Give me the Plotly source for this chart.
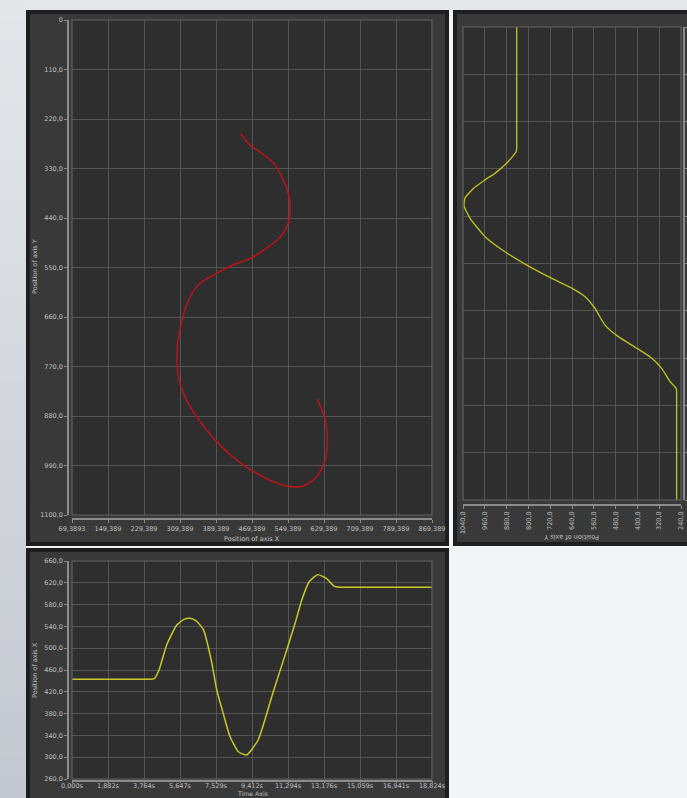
import plotly.graph_objects as go

W, H = 687, 798

# ---------------- data ----------------
# top-left: trajectory (Position of axis X vs Position of axis Y)
path_x = [444.3, 465, 487, 517, 539, 552, 554, 550, 532, 502, 465, 428, 391, 354, 332,
          315, 303, 306, 320, 346, 391, 450, 517, 554, 583, 613, 632, 637, 632, 615]
path_y = [253, 278, 293, 318, 356, 393, 422, 452, 482, 507, 530, 544, 563, 585, 615,
          663, 733, 793, 837, 881, 937, 989, 1026, 1037, 1036, 1015, 978, 933, 889, 843]

# top-right: Position of axis Y over time (time runs upward)
y_time = [0, 4.0, 4.30, 4.45, 4.71, 5.24, 5.64, 6.04, 6.50, 6.96, 7.63, 8.09, 8.43, 8.82,
          9.35, 9.88, 10.48, 11.21, 11.70, 12.01, 12.40, 12.74, 13.00, 13.40, 13.86,
          14.00, 14.3, 18.824]
y_pos = [256, 256, 256, 258, 280, 311, 347, 402, 470, 519, 556, 592, 641, 714,
         806, 886, 959, 1014, 1036, 1033, 1002, 959, 923, 880, 845,
         843, 843, 843]

# bottom: Position of axis X over time
x_time = [0, 3.9, 4.30, 4.55, 4.95, 5.47, 5.85, 6.17, 6.50, 6.87, 7.30, 7.57, 7.91, 8.26,
          8.70, 9.13, 9.74, 10.48, 11.21, 11.70, 12.01, 12.40, 12.86, 13.30, 13.70, 14.00,
          14.5, 18.824]
x_pos = [443, 443, 444, 460, 506, 542, 553, 555, 550, 534, 475, 423, 380, 338,
         310, 304, 332, 415, 495, 550, 588, 622, 635, 628, 614, 612,
         612, 612]

# tick labels
tl_x_vals = [69.3893 + 80 * i for i in range(11)]
tl_x_text = ["69,3893", "149,389", "229,389", "309,389", "389,389", "469,389",
             "549,389", "629,389", "709,389", "789,389", "869,389"]
tl_y_vals = [110 * i for i in range(11)]
tl_y_text = ["0", "110,0", "220,0", "330,0", "440,0", "550,0", "660,0", "770,0",
             "880,0", "990,0", "1100,0"]
tr_x_vals = [1040, 960, 880, 800, 720, 640, 560, 480, 400, 320, 240]
tr_x_text = ["1040,0", "960,0", "880,0", "800,0", "720,0", "640,0", "560,0", "480,0",
             "400,0", "320,0", "240,0"]
b_x_vals = [1.8824 * i for i in range(11)]
b_x_text = ["0,000s", "1,882s", "3,764s", "5,647s", "7,529s", "9,412s", "11,294s",
            "13,176s", "15,059s", "16,941s", "18,824s"]
b_y_vals = [260, 300, 340, 380, 420, 460, 500, 540, 580, 620, 660]
b_y_text = ["260,0", "300,0", "340,0", "380,0", "420,0", "460,0", "500,0", "540,0",
            "580,0", "620,0", "660,0"]

# ---------------- helpers ----------------
def fx(x):
    return x / W


def fy(y):
    return 1 - y / H


FONT = "DejaVu Sans"
GRID = "#555555"
AXL = "#8c8c8c"
TXT = "#c0c0c0"

fig = go.Figure()

fig.add_trace(go.Scatter(x=path_x, y=path_y, mode="lines", xaxis="x", yaxis="y",
                         line=dict(color="#b3161b", width=1.6, shape="spline", smoothing=0.8),
                         hoverinfo="skip", showlegend=False))
fig.add_trace(go.Scatter(x=y_pos, y=y_time, mode="lines", xaxis="x2", yaxis="y2",
                         line=dict(color="#bdbd22", width=1.4, shape="spline", smoothing=0.5),
                         hoverinfo="skip", showlegend=False))
fig.add_trace(go.Scatter(x=x_time, y=x_pos, mode="lines", xaxis="x3", yaxis="y3",
                         line=dict(color="#c9c926", width=1.5, shape="spline", smoothing=0.5),
                         hoverinfo="skip", showlegend=False))


def ax(**kw):
    d = dict(showgrid=True, gridcolor=GRID, gridwidth=1, zeroline=False, automargin=False,
             showline=True, linecolor=AXL, linewidth=1.5, ticks="outside", ticklen=3,
             tickcolor=AXL, tickwidth=1, tickfont=dict(size=6.5, color=TXT, family=FONT),
             tickmode="array", fixedrange=True)
    d.update(kw)
    return d


layout = dict(
    template="none",
    width=W, height=H, margin=dict(l=0, r=0, t=0, b=0, pad=0), autosize=False,
    showlegend=False,
    paper_bgcolor="#f3f4f6", plot_bgcolor="rgba(0,0,0,0)",
    font=dict(family=FONT, color=TXT),
    xaxis=ax(domain=[fx(72), fx(432)], range=[69.3893, 869.389], tickvals=tl_x_vals,
             ticktext=tl_x_text, anchor="free", position=fy(519)),
    yaxis=ax(domain=[fy(515), fy(20)], range=[1100, 0], tickvals=tl_y_vals,
             ticktext=tl_y_text, anchor="free", position=fx(68)),
    xaxis2=ax(domain=[fx(463), fx(681)], range=[1040, 240], tickvals=tr_x_vals,
              ticktext=tr_x_text, tickangle=-90, anchor="free", position=fy(505)),
    yaxis2=ax(domain=[fy(500), fy(27)], range=[0, 18.824],
              tickvals=[1.8824 * i for i in range(11)], showticklabels=False,
              anchor="free", position=fx(684), side="right", ticklen=2),
    xaxis3=ax(domain=[fx(72), fx(432)], range=[0, 18.824], tickvals=b_x_vals,
              ticktext=b_x_text, anchor="free", position=fy(780.5), ticklen=2,
              ticklabelstandoff=-3),
    yaxis3=ax(domain=[fy(779), fy(561)], range=[260, 660], tickvals=b_y_vals,
              ticktext=b_y_text, anchor="free", position=fx(68)),
)

shapes = []
# left gradient strip
n = 40
c0 = (228, 230, 234)
c1 = (196, 200, 208)
for i in range(n):
    t = i / (n - 1)
    c = tuple(int(round(c0[k] + (c1[k] - c0[k]) * t)) for k in range(3))
    shapes.append(dict(type="rect", xref="paper", yref="paper", layer="below",
                       x0=0, x1=fx(26), y0=max(0, fy(H * (i + 1) / n + 1)), y1=fy(H * i / n),
                       fillcolor="rgb(%d,%d,%d)" % c, line=dict(width=0)))
# top strip
shapes.append(dict(type="rect", xref="paper", yref="paper", layer="below",
                   x0=fx(26), x1=1, y0=fy(10), y1=1, fillcolor="#e6e7ea", line=dict(width=0)))


def panel(x0, x1, y0, y1, px0, px1, py0, py1):
    shapes.append(dict(type="rect", xref="paper", yref="paper", layer="below",
                       x0=fx(x0), x1=min(1, fx(x1)), y0=max(0, fy(y1)), y1=fy(y0),
                       fillcolor="#1e1e1e", line=dict(width=0)))
    shapes.append(dict(type="rect", xref="paper", yref="paper", layer="below",
                       x0=fx(x0 + 4), x1=min(1, fx(x1 - 4)), y0=max(0, fy(y1 - 4)),
                       y1=fy(y0 + 4), fillcolor="#393939", line=dict(width=0)))
    shapes.append(dict(type="rect", xref="paper", yref="paper", layer="below",
                       x0=fx(px0), x1=fx(px1), y0=fy(py1), y1=fy(py0),
                       fillcolor="#2e2e2e", line=dict(width=0)))
    shapes.append(dict(type="rect", xref="paper", yref="paper", layer="above",
                       x0=fx(px0), x1=fx(px1), y0=fy(py1), y1=fy(py0),
                       fillcolor="rgba(0,0,0,0)", line=dict(color="#626262", width=1.2)))


panel(26, 449, 10, 546, 72, 432, 20, 515)
panel(453, 697, 10, 546, 463, 681, 27, 500)
panel(26, 449, 548, 808, 72, 432, 561, 779)
layout["shapes"] = shapes


def ann(text, x, y, angle=0, yanchor="middle", size=6.5):
    return dict(text=text, x=fx(x), y=fy(y), xref="paper", yref="paper", showarrow=False,
                textangle=angle, xanchor="center", yanchor=yanchor, borderpad=0,
                font=dict(size=size, color=TXT, family=FONT))


layout["annotations"] = [
    ann("Position of axis Y", 35, 267, -90),
    ann("Position of axis X", 252, 539),
    ann("Position of axis Y", 572, 537, 180),
    ann("Position of axis X", 35, 670, -90),
    ann("Time Axis", 252, 798, 0, "bottom", 6.2),
]

fig.update_layout(**layout)
fig.write_html(
    "out.html",
    config={"responsive": False, "displayModeBar": False},
    post_script=("document.documentElement.style.margin='0';"
                 "document.body.style.margin='0';"
                 "document.body.style.overflow='hidden';"
                 "document.documentElement.style.overflow='hidden';"),
)
